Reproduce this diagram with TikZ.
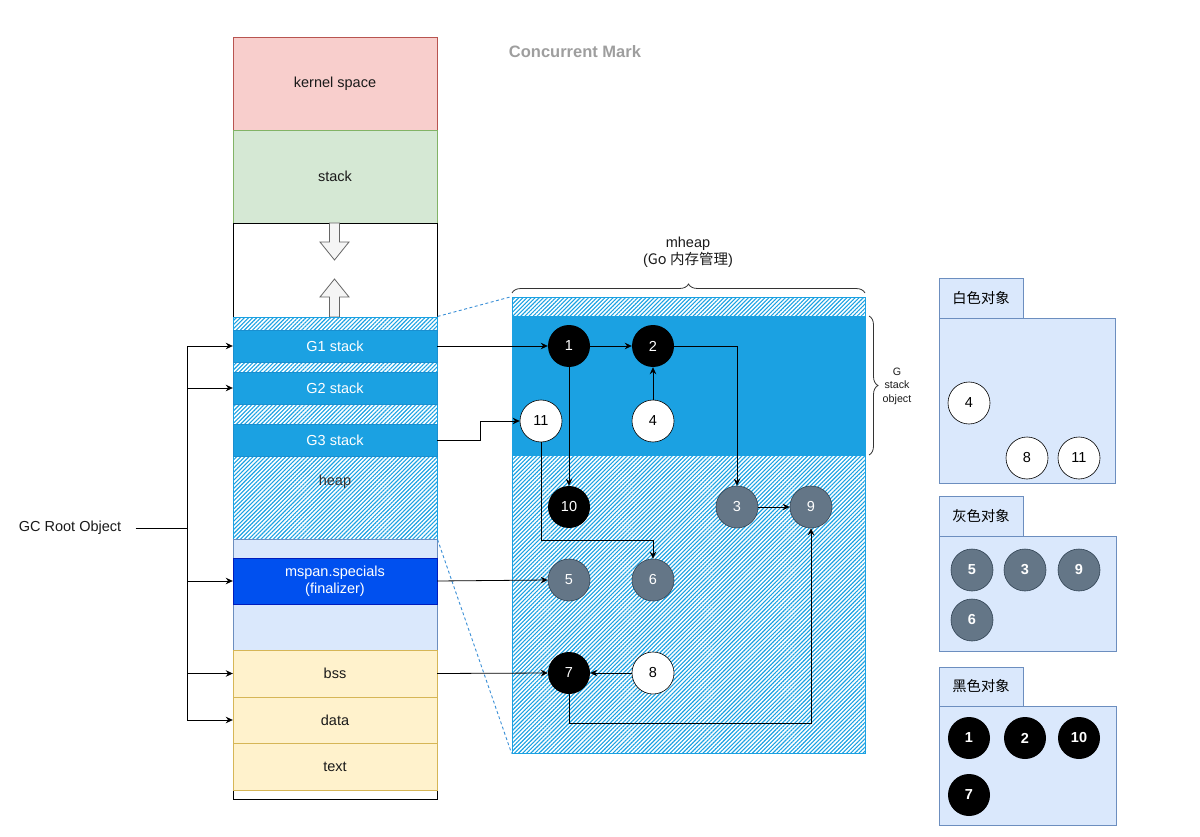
\documentclass[tikz,border=0pt]{standalone}
\usepackage{fontspec}
\setmainfont{Liberation Sans}
\newfontfamily\cjk{Noto Sans CJK SC}
\usetikzlibrary{patterns.meta,arrows.meta,decorations.pathreplacing}
\definecolor{kred}{HTML}{F8CECC}\definecolor{kredd}{HTML}{B85450}
\definecolor{sgreen}{HTML}{D5E8D4}\definecolor{sgreend}{HTML}{82B366}
\definecolor{gblue}{HTML}{1BA1E2}\definecolor{gblued}{HTML}{1A8FD0}
\definecolor{mblue}{HTML}{0050EF}\definecolor{mblued}{HTML}{001DBC}
\definecolor{lblue}{HTML}{DAE8FC}\definecolor{lblued}{HTML}{6C8EBF}
\definecolor{yel}{HTML}{FFF2CC}\definecolor{yeld}{HTML}{D6B656}
\definecolor{grayo}{HTML}{647687}\definecolor{grayod}{HTML}{314354}
\definecolor{arrfill}{HTML}{F5F5F5}\definecolor{arrdraw}{HTML}{666666}
\definecolor{dashc}{HTML}{3A8FD6}
\definecolor{titlec}{HTML}{9E9E9E}
\definecolor{txt}{HTML}{1A1A1A}
\begin{document}
\begin{tikzpicture}[x=1pt,y=-1pt,font=\fontsize{14.5}{17}\selectfont,
  seg/.style={minimum width=204pt,inner sep=0pt,align=center,text=txt},
  hatched/.style={draw=gblue,line width=0.8pt,pattern={Lines[angle=45,distance=2.9pt,line width=1.1pt]},pattern color=gblue},
  gstk/.style={seg,fill=gblue,draw=gblued,text=white},
  obj/.style={circle,minimum size=42pt,inner sep=0pt},
  blk/.style={obj,fill=black,text=white},
  gry/.style={obj,fill=grayo,draw=grayod,line width=0.6pt,text=white},
  wht/.style={obj,fill=white,draw=black,line width=0.6pt,text=black},
  conn/.style={draw=black,line width=0.8pt,-{Stealth[length=7pt,width=6.5pt]}},
  blockarrow/.style={fill=arrfill,draw=arrdraw,line width=0.8pt},
  legbox/.style={fill=lblue,draw=lblued,line width=0.8pt,inner sep=0pt},
  legtab/.style={legbox,minimum width=84pt,minimum height=40pt,font=\cjk\fontsize{14.3}{17}\selectfont},
  bracestyle/.style={draw=black!80,line width=0.8pt,decorate},
  dashline/.style={draw=dashc,line width=0.9pt,dash pattern=on 3pt off 2.5pt}
]
\useasboundingbox (0,0) rectangle (1200,837);

% title
\node[text=titlec,font=\fontsize{16.5}{19}\selectfont\bfseries] (title) at (575,52) {Concurrent Mark};

% memory column
\draw[black,line width=0.8pt] (233,223) rectangle (437,799);
\node[seg,fill=kred,draw=kredd,minimum height=93pt] (kernel) at (335,83.5) {kernel space};
\node[seg,fill=sgreen,draw=sgreend,minimum height=93pt] (ustack) at (335,176.5) {stack};
\node[seg,draw=black,line width=0.8pt,minimum height=94pt] (gap) at (335,270) {};
\draw[blockarrow] (329.5,223) -- (339.5,223) -- (339.5,242) -- (349,242) -- (334.5,260) -- (320,242) -- (329.5,242) -- cycle;
\draw[blockarrow] (329.5,317) -- (339.5,317) -- (339.5,297) -- (349,297) -- (334.5,279) -- (320,297) -- (329.5,297) -- cycle;
\node[seg,hatched,minimum height=222pt] (hatchA) at (335,428) {};
\node[gstk,minimum height=32pt] (g1) at (335,346) {G1 stack};
\node[gstk,minimum height=32pt] (g2) at (335,388) {G2 stack};
\node[gstk,minimum height=32pt] (g3) at (335,440) {G3 stack};
\node[text=black!80] (heaplbl) at (335,482) {heap};
\node[seg,fill=lblue,draw=lblued,minimum height=111pt] (lb) at (335,594.5) {};
\node[seg,fill=mblue,draw=mblued,text=white,minimum height=46pt] (mspan) at (335,581) {mspan.specials\\(finalizer)};
\node[seg,fill=yel,draw=yeld,minimum height=47pt] (bss) at (335,673.5) {bss};
\node[seg,fill=yel,draw=yeld,minimum height=46pt] (data) at (335,720) {data};
\node[seg,fill=yel,draw=yeld,minimum height=47pt] (text) at (335,766.5) {text};

% GC root
\node[text=txt] (gc) at (70,528) {GC Root Object};
\coordinate (hub) at (187,528);
\draw[black,line width=0.8pt] ([xshift=11pt]gc.east) -- (hub);
\draw[conn] (hub) |- (g1.west);
\draw[conn] (hub) |- (g2.west);
\draw[conn] (hub) |- (mspan.west);
\draw[conn] (hub) |- (bss.west);
\draw[conn] (hub) |- (data.west);

% heap panel
\node[hatched,minimum width=353pt,minimum height=456pt,inner sep=0pt] (panel) at (688.5,525) {};
\node[fill=gblue,draw=gblue,minimum width=353pt,minimum height=139pt,inner sep=0pt] (gband) at (688.5,385.5) {};
\draw[dashline] (hatchA.north east) -- (panel.north west);
\draw[dashline] (hatchA.south east) -- (panel.south west);

\draw[bracestyle,decoration={brace,amplitude=9pt}] (512,293) -- (865,293);
\node[align=center,text=txt] (mheap) at (688,252) {mheap\\({\cjk Go 内存管理})};
\draw[bracestyle,decoration={brace,amplitude=9pt}] (869,316) -- (869,455);
\node[align=center,text=txt,font=\fontsize{10.7}{13.5}\selectfont] (gso) at (897,386) {G\\stack\\object};

% objects
\node[blk] (n1) at (569,346) {1};
\node[blk] (n2) at (653,346) {2};
\node[wht] (n11) at (541,421) {11};
\node[wht] (n4) at (653,421) {4};
\node[blk] (n10) at (569,507) {10};
\node[gry] (n3) at (737,507) {3};
\node[gry] (n9) at (811,507) {9};
\node[gry] (n5) at (569,580) {5};
\node[gry] (n6) at (653,580) {6};
\node[blk] (n7) at (569,673) {7};
\node[wht] (n8) at (653,673) {8};

\draw[conn] (g1.east) -- (n1);
\draw[conn] (n1) -- (n2);
\draw[conn] (n2.east) -| (n3.north);
\draw[conn] (n4) -- (n2);
\draw[conn] (n1) -- (n10);
\draw[conn] (g3.east) -- ++(43,0) |- (n11.west);
\draw[conn] (n11.south) -- ++(0,98) -| (n6.north);
\draw[conn] (n3) -- (n9);
\draw[conn] (mspan.east) -- (n5.west);
\draw[conn] (bss.east) -- (n7.west);
\draw[conn] (n8) -- (n7);
\draw[conn] (n7.south) -- ++(0,29) -| (n9.south);

% legend
\node[legbox,minimum width=176pt,minimum height=165pt] (wbody) at (1027,400.5) {};
\node[legtab] (wtab) at (981,298) {白色对象};
\node[wht] (lw4) at (969,403) {4};
\node[wht] (lw8) at (1027,458) {8};
\node[wht] (lw11) at (1079,458) {11};

\node[legbox,minimum width=177pt,minimum height=115pt] (gbody) at (1027.5,593.5) {};
\node[legtab] (gtab) at (981,516) {灰色对象};
\node[gry,font=\fontsize{14.5}{17}\selectfont\bfseries] (lg5) at (972,570) {5};
\node[gry,font=\fontsize{14.5}{17}\selectfont\bfseries] (lg3) at (1025,570) {3};
\node[gry,font=\fontsize{14.5}{17}\selectfont\bfseries] (lg9) at (1079,570) {9};
\node[gry,font=\fontsize{14.5}{17}\selectfont\bfseries] (lg6) at (972,620) {6};

\node[legbox,minimum width=177pt,minimum height=119pt] (bbody) at (1027.5,765.5) {};
\node[legtab,minimum height=39pt] (btab) at (981,686.5) {黑色对象};
\node[blk,font=\fontsize{14.5}{17}\selectfont\bfseries] (lb1) at (969,738) {1};
\node[blk,font=\fontsize{14.5}{17}\selectfont\bfseries] (lb2) at (1025,738) {2};
\node[blk,font=\fontsize{14.5}{17}\selectfont\bfseries] (lb10) at (1079,738) {10};
\node[blk,font=\fontsize{14.5}{17}\selectfont\bfseries] (lb7) at (969,795) {7};
\end{tikzpicture}
\end{document}
